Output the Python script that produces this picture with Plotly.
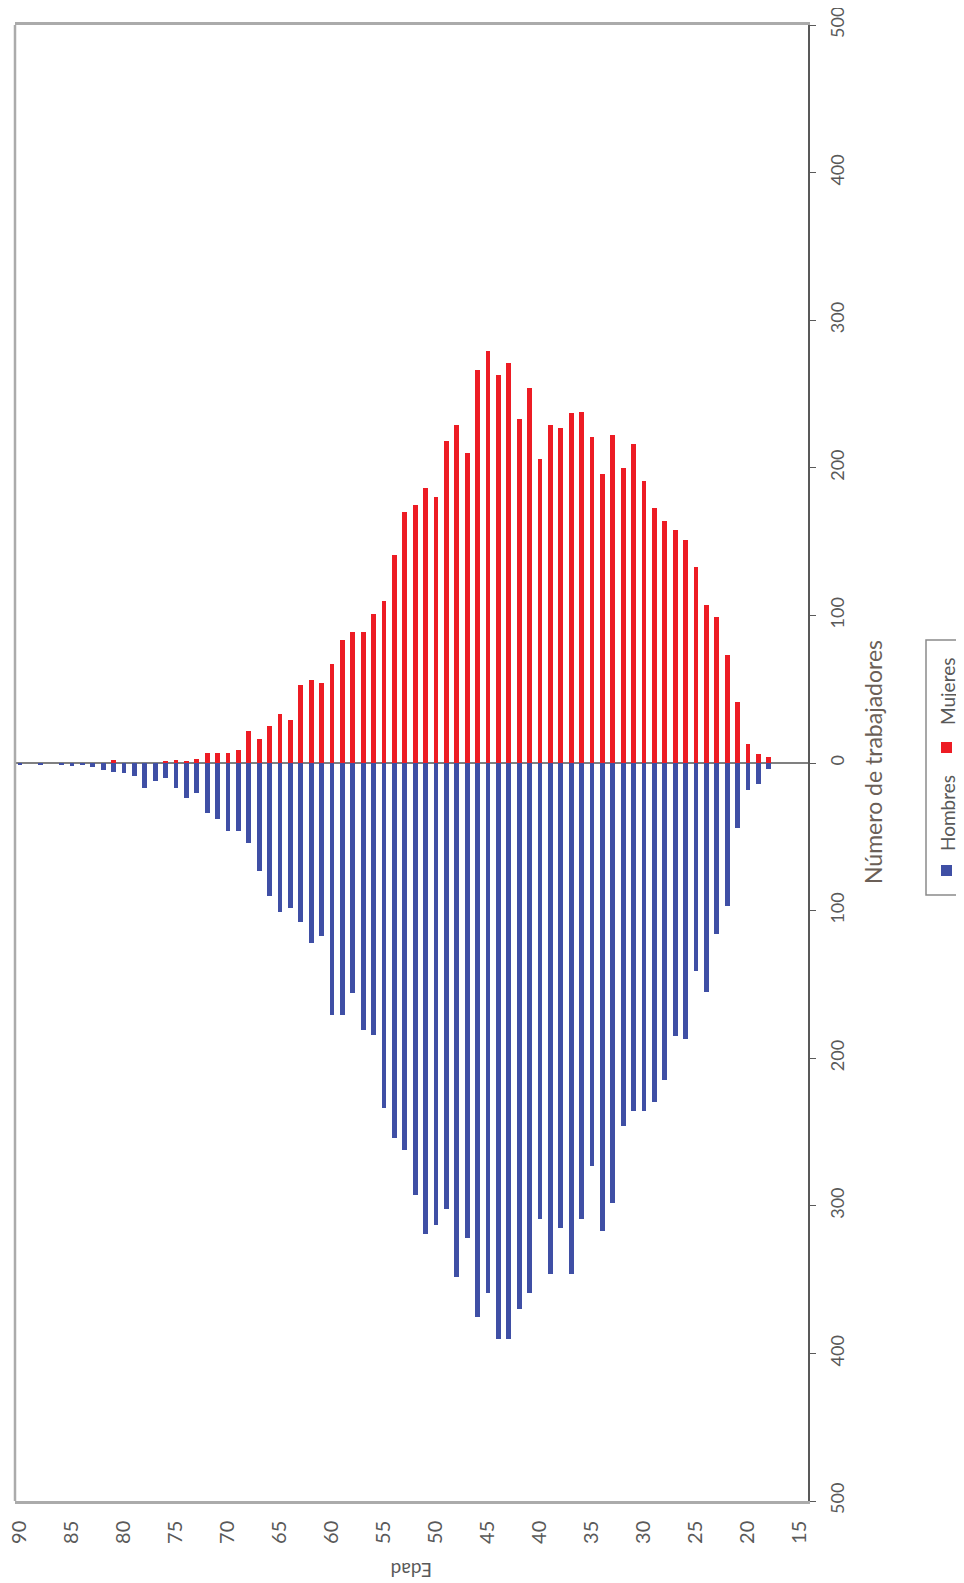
import plotly.graph_objects as go

# ---------------- data ----------------
ages = list(range(18, 91))
mujeres = [4, 6, 13, 41, 73, 99, 107, 133, 151, 158,      # 18-27
           164, 173, 191, 216, 200, 222, 196, 221, 238, 237,  # 28-37
           227, 229, 206, 254, 233, 271, 263, 279, 266, 210,  # 38-47
           229, 218, 180, 186, 175, 170, 141, 110, 101, 89,   # 48-57
           89, 83, 67, 54, 56, 53, 29, 33, 25, 16,            # 58-67
           22, 9, 7, 7, 7, 3, 1, 2, 1, 0,                     # 68-77
           0, 0, 0, 2, 0, 0, 0, 0, 0, 0,                      # 78-87
           0, 0, 0]                                           # 88-90
hombres = [4, 14, 18, 44, 97, 116, 155, 141, 187, 185,    # 18-27
           215, 230, 236, 236, 246, 298, 317, 273, 309, 346,  # 28-37
           315, 346, 309, 359, 370, 390, 390, 359, 375, 322,  # 38-47
           348, 302, 313, 319, 293, 262, 254, 234, 184, 181,  # 48-57
           156, 171, 171, 117, 122, 108, 98, 101, 90, 73,     # 58-67
           54, 46, 46, 38, 34, 20, 24, 17, 10, 12,            # 68-77
           17, 9, 7, 6, 5, 3, 1, 2, 1, 0,                     # 78-87
           1, 0, 1]                                           # 88-90
age_ticks = list(range(15, 95, 5))
count_ticks = [-500, -400, -300, -200, -100, 0, 100, 200, 300, 400, 500]
count_labels = [str(abs(v)) for v in count_ticks]

# ---------------- layout helpers ----------------
# page has an 8px body margin; work in page pixels and convert
OFF = 8
W, H = 964 - OFF, 1583 - OFF
L, R, T, B = 15, 808, 25, 1501   # plot area in page pixels


def px(xp):
    return (xp - L) / (R - L)


def py(yp):
    return (B - yp) / (B - T)


FONT = "Lato"
TXT = "#595959"
RED = "#ED1C24"
BLUE = "#3F4FA5"

fig = go.Figure()
fig.add_trace(go.Bar(x=ages, y=[-v for v in hombres], name="Hombres",
                     marker=dict(color=BLUE, line=dict(width=0)), width=0.48))
fig.add_trace(go.Bar(x=ages, y=mujeres, name="Mujeres",
                     marker=dict(color=RED, line=dict(width=0)), width=0.48))

fig.update_layout(
    width=W, height=H,
    margin=dict(l=L - OFF, r=964 - R, t=T - OFF, b=1583 - B, autoexpand=False),
    paper_bgcolor="white", plot_bgcolor="white",
    barmode="relative", bargap=0,
    showlegend=False,
    font=dict(family=FONT, color=TXT),
    xaxis=dict(range=[90.48, 14.23], tickmode="array", tickvals=age_ticks,
               tickangle=-90, tickfont=dict(size=20, color=TXT),
               automargin=False, ticklabeloverflow="allow",
               ticklabelstandoff=9,
               showgrid=False, zeroline=False, showline=True, mirror=True,
               linecolor="#ababab", linewidth=2.5, ticks=""),
    yaxis=dict(range=[-500, 500], side="right", tickmode="array",
               tickvals=count_ticks, ticktext=count_labels, tickangle=-90,
               tickfont=dict(size=18, color=TXT), automargin=False,
               ticklabeloverflow="allow", ticklabelstandoff=6,
               showgrid=False, zeroline=True, zerolinecolor="#808080",
               zerolinewidth=1.5, showline=True, linecolor="#595959",
               linewidth=2, ticks="outside", ticklen=6, tickcolor="#595959"),
)

shapes = [
    # left frame line
    dict(type="line", xref="paper", yref="paper", x0=0, x1=0, y0=0, y1=1,
         line=dict(color="#ababab", width=2.5)),
    # legend box
    dict(type="rect", xref="paper", yref="paper", x0=px(926), x1=px(985),
         y0=py(895), y1=py(640), line=dict(color="#8a8a8a", width=1.5)),
    # legend swatches
    dict(type="rect", xref="paper", yref="paper", x0=px(941), x1=px(952),
         y0=py(753), y1=py(742), fillcolor=RED, line=dict(width=0)),
    dict(type="rect", xref="paper", yref="paper", x0=px(941), x1=px(952),
         y0=py(876), y1=py(865), fillcolor=BLUE, line=dict(width=0)),
]

annotations = [
    dict(text="Número de trabajadores", xref="paper", yref="paper",
         x=px(873), y=py(762), textangle=-90, showarrow=False,
         font=dict(size=23, color="#6b5f57", family=FONT),
         xanchor="center", yanchor="middle"),
    dict(text="Edad", xref="paper", yref="paper", x=px(412), y=py(1570),
         textangle=180, showarrow=False,
         font=dict(size=19, color=TXT, family=FONT),
         xanchor="center", yanchor="middle"),
    dict(text="Mujeres", xref="paper", yref="paper", x=px(947), y=py(692),
         textangle=-90, showarrow=False,
         font=dict(size=19, color=TXT, family=FONT),
         xanchor="center", yanchor="middle"),
    dict(text="Hombres", xref="paper", yref="paper", x=px(947), y=py(813),
         textangle=-90, showarrow=False,
         font=dict(size=19, color=TXT, family=FONT),
         xanchor="center", yanchor="middle"),
]

fig.update_layout(shapes=shapes, annotations=annotations)
fig.write_html("out.html")
